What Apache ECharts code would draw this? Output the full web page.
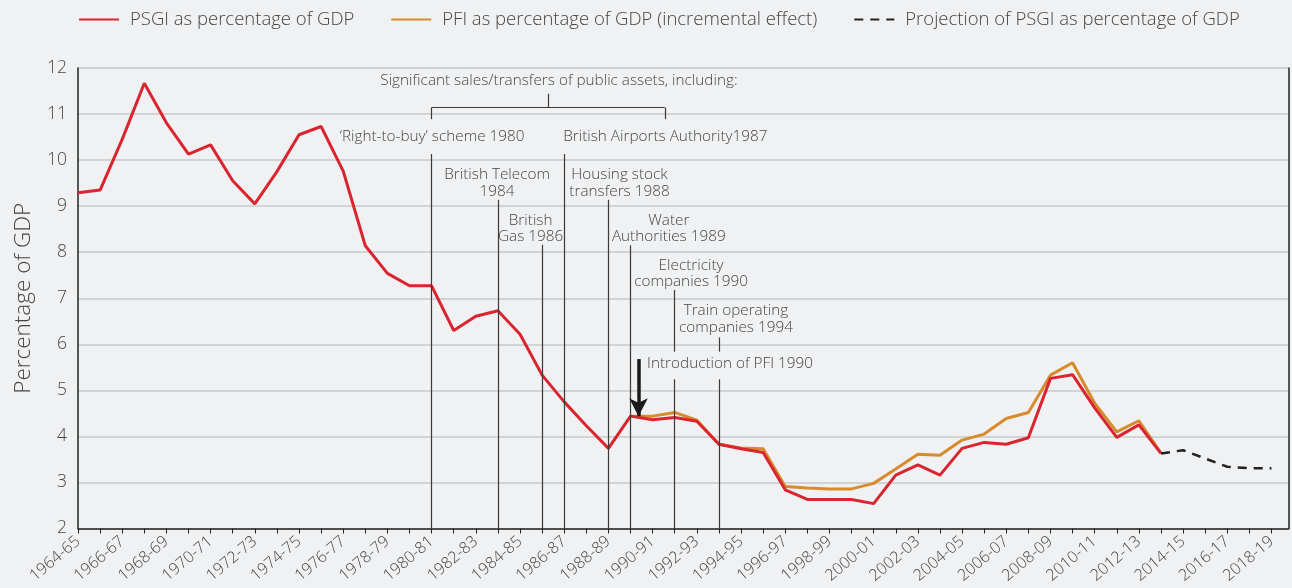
<!DOCTYPE html>
<html>
<head>
<meta charset="utf-8">
<script src="https://cdn.jsdelivr.net/npm/echarts@6/dist/echarts.min.js"></script>
<style>
html,body{margin:0;padding:0;background:#f0f1f3;}
#c{width:1292px;height:588px;}
</style>
</head>
<body>
<div id="c"></div>
<script>
const categories = ['1964-65','1965-66','1966-67','1967-68','1968-69','1969-70','1970-71','1971-72','1972-73','1973-74',
'1974-75','1975-76','1976-77','1977-78','1978-79','1979-80','1980-81','1981-82','1982-83','1983-84',
'1984-85','1985-86','1986-87','1987-88','1988-89','1989-90','1990-91','1991-92','1992-93','1993-94',
'1994-95','1995-96','1996-97','1997-98','1998-99','1999-00','2000-01','2001-02','2002-03','2003-04',
'2004-05','2005-06','2006-07','2007-08','2008-09','2009-10','2010-11','2011-12','2012-13','2013-14',
'2014-15','2015-16','2016-17','2017-18','2018-19'];

// PSGI as % of GDP, from 1964-65
const psgi = [9.29,9.35,10.45,11.67,10.81,10.13,10.33,9.55,9.05,9.75,
10.55,10.73,9.76,8.14,7.54,7.27,7.27,6.30,6.61,6.73,
6.22,5.33,4.75,4.23,3.74,4.44,4.36,4.41,4.33,3.83,
3.73,3.65,2.84,2.63,2.63,2.63,2.54,3.16,3.38,3.16,
3.74,3.87,3.83,3.97,5.26,5.34,4.62,3.98,4.25,3.63];
const psgiStart = 0;

// PFI incremental effect (PSGI + PFI), from 1989-90
const pfi = [4.44,4.44,4.52,4.35,3.83,3.75,3.73,2.91,2.88,2.86,
2.86,2.98,3.29,3.61,3.59,3.92,4.05,4.39,4.52,5.33,
5.60,4.72,4.10,4.34,3.64];
const pfiStart = 25;

// Projection, from 2013-14
const projection = [3.63,3.70,3.52,3.34,3.31,3.31];
const projStart = 49;

const yTicks = [2,3,4,5,6,7,8,9,10,11,12];

// annotation vertical lines: [categoryIndex, fromValue, toValue]
const annoLines = [
  [16, 2, 10.13],
  [19, 2, 9.14],
  [21, 2, 8.16],
  [22, 2, 10.13],
  [24, 2, 9.14],
  [25, 2, 8.15],
  [27, 2, 5.24], [27, 5.84, 7.18],
  [29, 2, 5.24], [29, 5.84, 6.15],
  // bracket legs and stem
  [16, 10.89, 11.14], [26.55, 10.89, 11.14], [21.27, 11.14, 11.44]
];
const bracket = [16, 26.55, 11.14];
const arrow = [25.36, 5.68, 4.44];

// annotation texts: [x, y, text, align]
const annoTexts = [
  [21.76, 11.72, 'Significant sales/transfers of public assets, including:', 'center'],
  [16.02, 10.52, '\u2018Right-to-buy\u2019 scheme 1980', 'center'],
  [21.95, 10.52, 'British Airports Authority1987', 'left'],
  [18.96, 9.50, 'British Telecom\n1984', 'center'],
  [20.48, 8.51, 'British\nGas 1986', 'center'],
  [24.50, 9.50, 'Housing stock\ntransfers 1988', 'center'],
  [26.73, 8.51, 'Water\nAuthorities 1989', 'center'],
  [27.74, 7.53, 'Electricity\ncompanies 1990', 'center'],
  [29.77, 6.55, 'Train operating\ncompanies 1994', 'center'],
  [25.75, 5.57, 'Introduction of PFI 1990', 'left']
];

const FONT = 'Open Sans';
const FW = 300;
const TXT = '#454545';

const toPairs = (arr, start) => arr.map((v, k) => [start + k, v]);

const markLineData = annoLines.map(a => [{coord: [a[0], a[1]]}, {coord: [a[0], a[2]]}]);
markLineData.push([{coord: [bracket[0], bracket[2]]}, {coord: [bracket[1], bracket[2]]}]);

const markPointData = annoTexts.map(t => ({
  coord: [t[0], t[1]],
  symbol: 'rect', symbolSize: 1,
  itemStyle: {color: 'rgba(0,0,0,0)'},
  label: {show: true, position: 'inside', formatter: t[2], align: t[3], verticalAlign: 'middle',
    color: TXT, fontFamily: FONT, fontWeight: FW, fontSize: 15.3, lineHeight: 16.5}
}));

const chart = echarts.init(document.getElementById('c'), null, {renderer: 'canvas'});
chart.setOption({
  backgroundColor: '#f0f1f3',
  animation: false,
  textStyle: {fontFamily: FONT, fontWeight: FW},
  legend: {
    left: 73, top: 5,
    itemWidth: 40, itemHeight: 14, itemGap: 36,
    itemStyle: {opacity: 0},
    textStyle: {color: TXT, fontSize: 18.5, fontFamily: FONT, fontWeight: FW, padding: [0, 0, 0, 6]},
    data: ['PSGI as percentage of GDP', 'PFI as percentage of GDP (incremental effect)', 'Projection of PSGI as percentage of GDP']
  },
  grid: {left: 78, right: 3.5, top: 68, bottom: 59.5, containLabel: false},
  xAxis: {
    type: 'value', min: 0, max: 54.77, interval: 1,
    axisLine: {show: true, lineStyle: {color: '#222', width: 1.5}},
    axisTick: {show: true, length: 5, lineStyle: {color: '#222', width: 1}},
    splitLine: {show: false},
    axisLabel: {
      rotate: 40, margin: 11, color: TXT, fontSize: 16, fontFamily: FONT, fontWeight: FW,
      showMaxLabel: false,
      formatter: v => (Number.isInteger(v) && v % 2 === 0 && categories[v]) ? categories[v] : ''
    }
  },
  yAxis: [{
    type: 'value', min: yTicks[0], max: yTicks[yTicks.length - 1], interval: 1,
    name: 'Percentage of GDP', nameLocation: 'middle', nameGap: 43,
    nameTextStyle: {color: TXT, fontSize: 22.5, fontFamily: FONT, fontWeight: FW},
    axisLine: {show: true, lineStyle: {color: '#222', width: 1.5}},
    axisTick: {show: false},
    axisLabel: {color: TXT, fontSize: 17.5, fontFamily: FONT, fontWeight: FW, margin: 11},
    splitLine: {show: true, lineStyle: {color: '#c8c9cb', width: 1.5}}
  }, {
    type: 'value', min: yTicks[0], max: yTicks[yTicks.length - 1], interval: 1, position: 'right',
    axisLine: {show: true, lineStyle: {color: '#222', width: 1.5}},
    axisTick: {show: false}, axisLabel: {show: false}, splitLine: {show: false}
  }],
  series: [
    {
      name: 'PFI as percentage of GDP (incremental effect)', type: 'line', symbol: 'none',
      data: toPairs(pfi, pfiStart), color: '#d68b2c',
      lineStyle: {width: 3, color: '#d68b2c'}, z: 3
    },
    {
      name: 'PSGI as percentage of GDP', type: 'line', symbol: 'none',
      data: toPairs(psgi, psgiStart), color: '#d9252f',
      lineStyle: {width: 3, color: '#d9252f'}, z: 4,
      markLine: {
        silent: true, symbol: 'none', animation: false,
        label: {show: false},
        lineStyle: {color: '#3a3a3a', width: 1.2, type: 'solid'},
        emphasis: {disabled: true},
        data: markLineData
      },
      markPoint: {silent: true, animation: false, data: markPointData}
    },
    {
      name: 'Projection of PSGI as percentage of GDP', type: 'line', symbol: 'none',
      data: toPairs(projection, projStart), color: '#222',
      lineStyle: {width: 2.5, color: '#222', type: [9, 7]}, z: 4,
      markLine: {
        silent: true, animation: false, symbol: ['none', 'arrow'], symbolSize: [14, 18],
        label: {show: false},
        lineStyle: {color: '#1a1a1a', width: 3.5, type: 'solid'},
        emphasis: {disabled: true},
        data: [[{coord: [arrow[0], arrow[1]]}, {coord: [arrow[0], arrow[2]]}]]
      }
    }
  ]
});
</script>
</body>
</html>
